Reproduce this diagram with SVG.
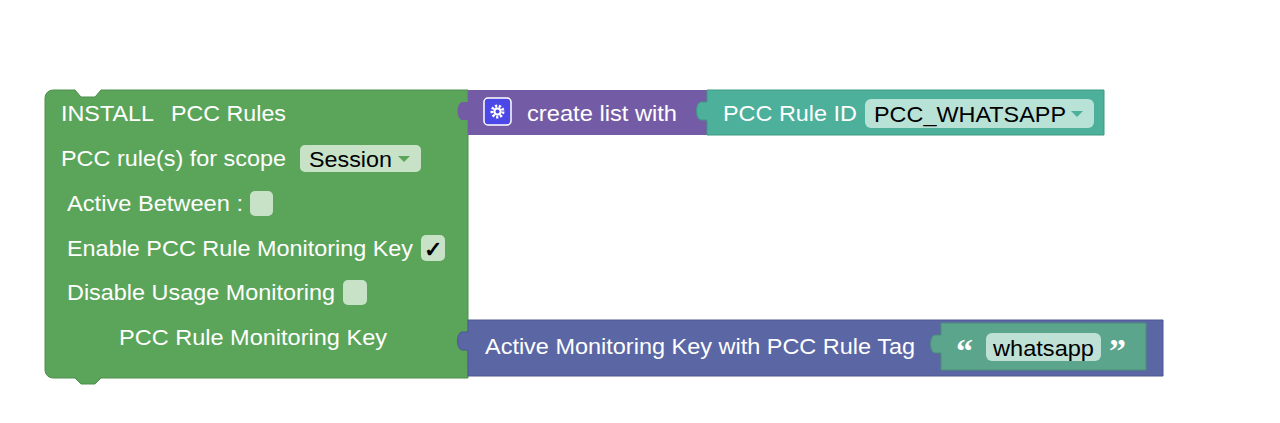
<svg xmlns="http://www.w3.org/2000/svg" width="1280" height="423" viewBox="0 0 1280 423">
<style>
.t{font-family:"Liberation Sans",Arial,sans-serif;font-size:22px;fill:#fff}
.d{font-family:"Liberation Sans",Arial,sans-serif;font-size:22px;fill:#000}
.q{font-family:"Liberation Serif",serif;font-size:34px;fill:#fff;font-weight:bold}
</style>
<rect width="1280" height="423" fill="#fff"/>
<g id="install">
<path d="M53,90 H75 l6,7 h14 l6,-7 H468 V378 H101 l-6,6 h-14 l-6,-6 H53 a8,8 0 0 1 -8,-8 V98 a8,8 0 0 1 8,-8 Z" fill="#5ba55b" stroke="#4e8f4e" stroke-width="1"/>
<text class="t" x="61" y="121" textLength="93" lengthAdjust="spacingAndGlyphs">INSTALL</text>
<text class="t" x="171" y="121" textLength="115" lengthAdjust="spacingAndGlyphs">PCC Rules</text>
<text class="t" x="61" y="166" textLength="225" lengthAdjust="spacingAndGlyphs">PCC rule(s) for scope</text>
<rect x="300" y="145" width="121" height="27" rx="5" fill="#c8e2c8"/>
<text class="d" x="309" y="167" textLength="83" lengthAdjust="spacingAndGlyphs">Session</text>
<path d="M398,156 h12 l-6,6 z" fill="#5ba55b"/>
<text class="t" x="67" y="211" textLength="176" lengthAdjust="spacingAndGlyphs">Active Between :</text>
<rect x="250" y="191" width="23" height="25" rx="5" fill="#c8e2c8"/>
<text class="t" x="67" y="256" textLength="346" lengthAdjust="spacingAndGlyphs">Enable PCC Rule Monitoring Key</text>
<rect x="421" y="235" width="24" height="26" rx="5" fill="#c8e2c8"/>
<text class="d" x="424" y="257" font-weight="bold">✓</text>
<text class="t" x="67" y="300" textLength="268" lengthAdjust="spacingAndGlyphs">Disable Usage Monitoring</text>
<rect x="343" y="280" width="24" height="25" rx="5" fill="#c8e2c8"/>
<text class="t" x="119" y="345" textLength="268" lengthAdjust="spacingAndGlyphs">PCC Rule Monitoring Key</text>
</g>
<g id="createlist">
<path d="M468,90 H707 V135 H468 V120 h-6 a3,6 0 0 1 0,-18 h6 Z" fill="#745ba5"/>
<rect x="484" y="98" width="27" height="27" rx="4" fill="#4c48e8" stroke="#fff" stroke-width="1.5"/>
<circle cx="497.5" cy="111.5" r="5.5" fill="none" stroke="#fff" stroke-width="3" stroke-dasharray="2.2 1.6"/>
<circle cx="497.5" cy="111.5" r="4" fill="#fff"/>
<circle cx="497.5" cy="111.5" r="2" fill="#4c48e8"/>
<text class="t" x="527" y="121" textLength="150" lengthAdjust="spacingAndGlyphs">create list with</text>
</g>
<g id="ruleid">
<path d="M707,90 H1104 V135 H707 V120 h-6 a3,6 0 0 1 0,-18 h6 Z" fill="#4cb09b" stroke="#3f9984" stroke-width="1"/>
<text class="t" x="723" y="121" textLength="134" lengthAdjust="spacingAndGlyphs">PCC Rule ID</text>
<rect x="865" y="99" width="229" height="29" rx="6" fill="#b8e2d6"/>
<text class="d" x="874" y="122" textLength="192" lengthAdjust="spacingAndGlyphs">PCC_WHATSAPP</text>
<path d="M1071,111 h12 l-6,6 z" fill="#4cb09b"/>
</g>
<g id="monkey">
<path d="M468,320 H1163 V376 H468 V350 h-6 a3,6 0 0 1 0,-18 h6 Z" fill="#5b67a5" stroke="#4c5690" stroke-width="1"/>
<text class="t" x="485" y="354" textLength="430" lengthAdjust="spacingAndGlyphs">Active Monitoring Key with PCC Rule Tag</text>
</g>
<g id="text">
<path d="M941,323 H1146 V370 H941 V353 h-6 a3,6 0 0 1 0,-18 h6 Z" fill="#5ba58c" stroke="#4c8f78" stroke-width="1"/>
<text class="q" x="956" y="362">“</text>
<rect x="986" y="333" width="115" height="28" rx="6" fill="#bfe0d4"/>
<text class="d" x="993" y="356" textLength="101" lengthAdjust="spacingAndGlyphs">whatsapp</text>
<text class="q" x="1109" y="362">”</text>
</g>
<g id="connectors"></g>
</svg>
